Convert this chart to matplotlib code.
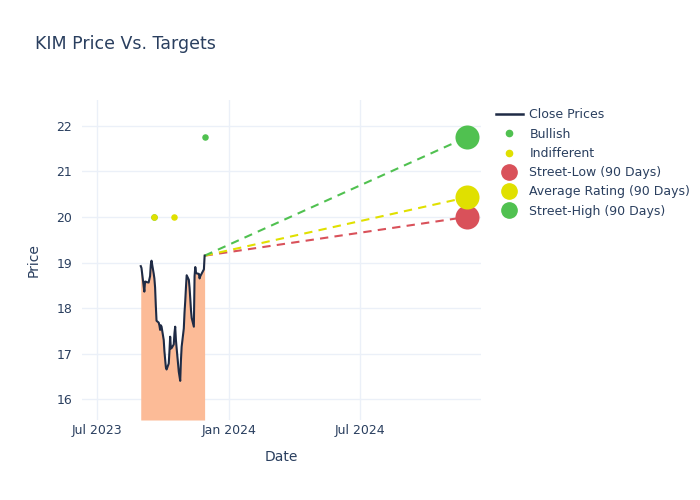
import matplotlib
matplotlib.use('Agg')
import matplotlib.pyplot as plt
import matplotlib.dates as mdates
from matplotlib.lines import Line2D
import pandas as pd
import numpy as np

# ----------------------------------------------------------------------------------------------------------------------
close_prices = [
    18.92, 18.88, 18.36, 18.58, 18.58, 18.57, 18.56, 18.63, 18.70, 18.95,
    19.04, 18.76, 18.65, 18.45, 18.05, 17.72, 17.68, 17.62, 17.52, 17.62,
    17.59, 17.30, 17.05, 16.87, 16.70, 16.65, 16.78, 17.05, 17.37, 17.11,
    17.12, 17.20, 17.45, 17.59, 17.30, 17.12, 16.60, 16.50, 16.40, 16.85,
    17.15, 17.55, 17.90, 18.15, 18.45, 18.72, 18.62, 18.45, 18.21, 17.95,
    17.78, 17.59, 18.70, 18.90, 18.78, 18.76, 18.75, 18.65, 18.70, 18.76,
    18.85, 19.15,
]
close_dates = pd.bdate_range('2023-08-31', periods=len(close_prices), freq='C',
                             holidays=['2023-09-04', '2023-11-23'])

bullish_dates = pd.to_datetime(['2023-09-18', '2023-11-28'])
bullish_values = [20.0, 21.75]
indifferent_dates = pd.to_datetime(['2023-09-19', '2023-10-16'])
indifferent_values = [20.0, 20.0]

target_date = pd.Timestamp('2024-11-27')
street_low = 20.0
average_rating = 20.43
street_high = 21.75

TEXT = '#2a3f5f'
GRID = '#ebf0f8'
RED = '#d9515a'
YELLOW = '#e0e000'
GREEN = '#50c150'

plt.rcParams.update({
    "font.family": "DejaVu Sans",
    "font.size": 9,
    "text.color": TEXT,
    "axes.labelcolor": TEXT,
    "xtick.color": TEXT,
    "ytick.color": TEXT,
})

fig = plt.figure(figsize=(7, 5), dpi=100)
ax = fig.add_axes([0.117, 0.16, 0.570, 0.64])
for spine in ax.spines.values():
    spine.set_visible(False)

ax.grid(True, color=GRID, linewidth=1)
ax.set_axisbelow(True)

ymin = 15.54
ax.fill_between(close_dates, close_prices, ymin, color='#fcbb97', linewidth=0, zorder=1)
ax.plot(close_dates, close_prices, color='#1f2b45', linewidth=1.5, zorder=3)

last_date = close_dates[-1]
last_price = close_prices[-1]
for val, col in [(street_low, RED), (average_rating, YELLOW), (street_high, GREEN)]:
    ax.plot([last_date, target_date], [last_price, val], color=col, linewidth=1.5,
            linestyle=(0, (4, 3)), zorder=2)

ax.scatter(bullish_dates, bullish_values, s=22, color=GREEN, zorder=4, linewidths=0)
ax.scatter(indifferent_dates, indifferent_values, s=22, color=YELLOW, zorder=4, linewidths=0)
ax.scatter([target_date], [street_low], s=300, color=RED, zorder=5, linewidths=0)
ax.scatter([target_date], [average_rating], s=300, color=YELLOW, zorder=5, linewidths=0)
ax.scatter([target_date], [street_high], s=300, color=GREEN, zorder=5, linewidths=0)

ax.set_xlim(pd.Timestamp('2023-06-10'), pd.Timestamp('2024-12-17'))
ax.set_ylim(ymin, 22.57)
ax.set_yticks([16, 17, 18, 19, 20, 21, 22])
ax.set_xticks(pd.to_datetime(['2023-07-01', '2024-01-01', '2024-07-01']))
ax.xaxis.set_major_formatter(mdates.DateFormatter('%b %Y'))
ax.tick_params(axis='y', length=0, labelsize=9, pad=7)
ax.tick_params(axis='x', length=0, labelsize=9, pad=3)

ax.set_xlabel('Date', fontsize=10, labelpad=9)
ax.set_ylabel('Price', fontsize=10, labelpad=11)

fig.text(0.05, 0.912, 'KIM Price Vs. Targets', fontsize=12.5, color=TEXT, va='center')

handles = [
    Line2D([], [], color='#1f2b45', linewidth=1.8),
    Line2D([], [], marker='o', linestyle='none', color=GREEN, markersize=4.5),
    Line2D([], [], marker='o', linestyle='none', color=YELLOW, markersize=4.5),
    Line2D([], [], marker='o', linestyle='none', color=RED, markersize=11),
    Line2D([], [], marker='o', linestyle='none', color=YELLOW, markersize=11),
    Line2D([], [], marker='o', linestyle='none', color=GREEN, markersize=11),
]
labels = ['Close Prices', 'Bullish', 'Indifferent', 'Street-Low (90 Days)',
          'Average Rating (90 Days)', 'Street-High (90 Days)']
fig.legend(handles, labels, loc='upper left', bbox_to_anchor=(0.701, 0.793), frameon=False,
           fontsize=9, handlelength=2.2, handletextpad=0.5, labelspacing=0.5, borderaxespad=0)

fig.savefig('out.png', dpi=100)
